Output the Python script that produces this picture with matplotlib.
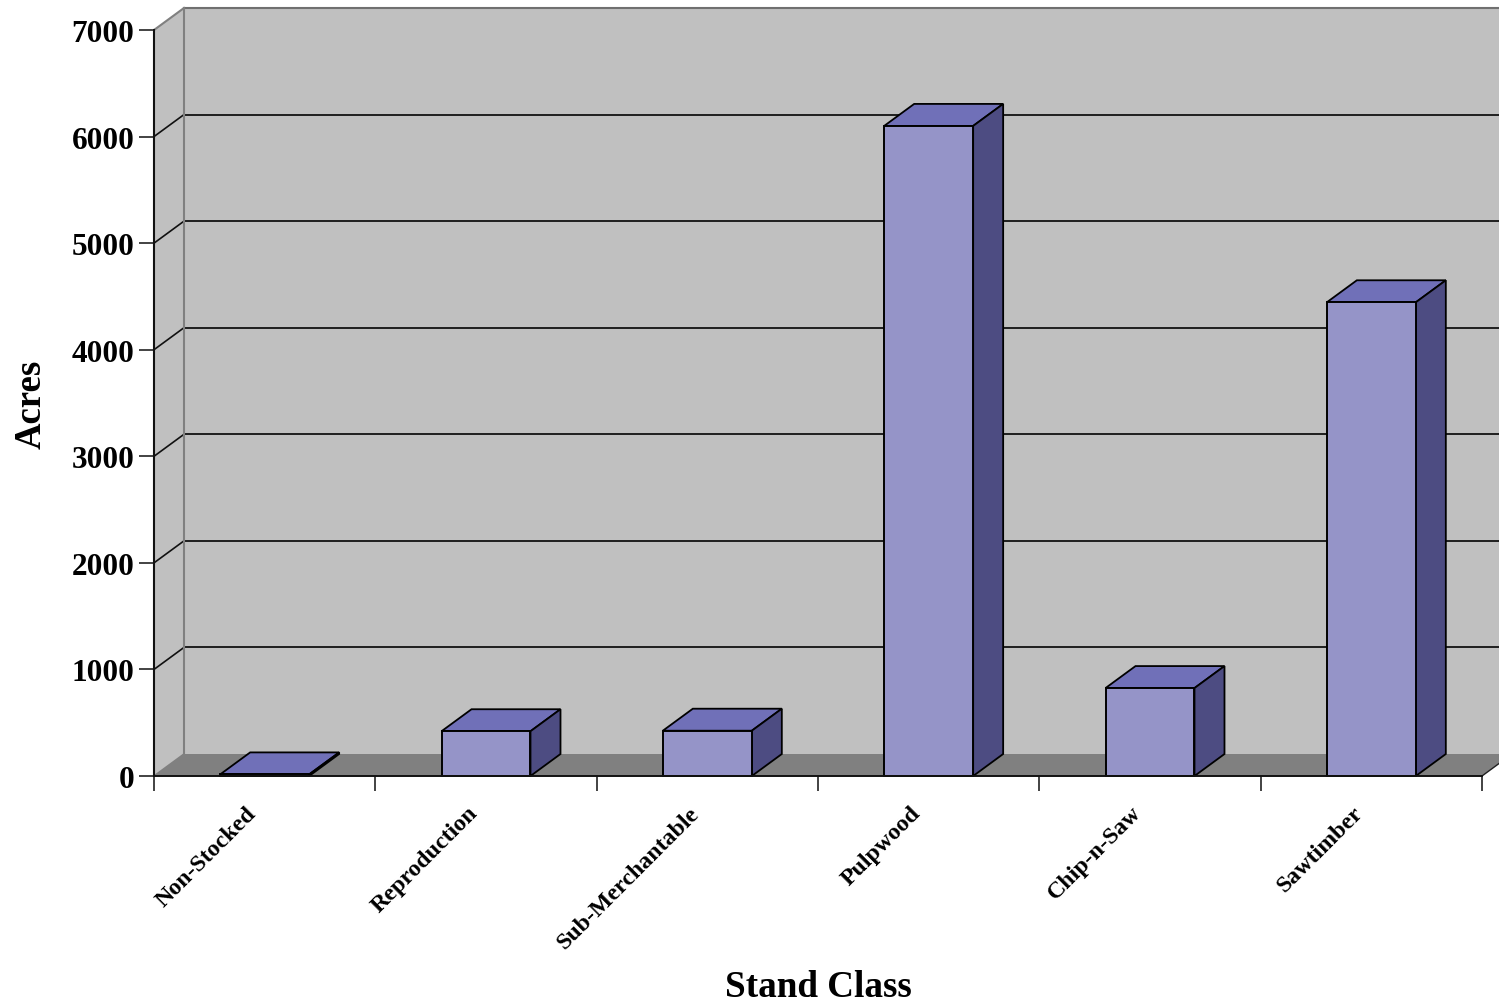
import matplotlib
matplotlib.use("Agg")
import matplotlib.pyplot as plt
from matplotlib.patches import Polygon

categories = ["Non-Stocked", "Reproduction", "Sub-Merchantable", "Pulpwood", "Chip-n-Saw", "Sawtimber"]
acres = [15, 420, 425, 6100, 825, 4445]
yticks = [0, 1000, 2000, 3000, 4000, 5000, 6000, 7000]

plt.rcParams["font.family"] = ["Liberation Serif", "DejaVu Serif"]
W, H = 1499, 1003
fig = plt.figure(figsize=(W / 100, H / 100), dpi=100)
ax = fig.add_axes([154 / W, (H - 777) / H, 1328 / W, 746 / H])
ax.set_xlim(0, 6)
ax.set_ylim(0, 7000)
ax.patch.set_alpha(0)
for s in ax.spines.values():
    s.set_visible(False)

# depth of the fake 3D box, in data units
DX = 30 / (1328 / 6)
DY = 22 / (746 / 7000)
YTOP = 7000
BW = 0.402

WALL = "#C0C0C0"
FLOOR = "#808080"
FRONT = "#9594C8"
TOP = "#7070B8"
SIDE = "#4D4C82"

def poly(pts, fc, ec="none", lw=1.0, z=1):
    ax.add_patch(Polygon(pts, closed=True, fc=fc, ec=ec, lw=lw, zorder=z, clip_on=False))

# walls and floor
poly([(DX, DY), (6.3, DY), (6.3, YTOP + DY), (DX, YTOP + DY)], WALL, z=1)
poly([(0, 0), (DX, DY), (DX, YTOP + DY), (0, YTOP)], WALL, z=1)
poly([(0, 0), (6, 0), (6 + DX, DY), (DX, DY)], FLOOR, z=1)

# grid
for v in yticks:
    if v == 0:
        continue
    if v < YTOP:
        ax.plot([0, DX], [v, v + DY], color="#111111", lw=1.2, zorder=2, clip_on=False)
        ax.plot([DX, 6.3], [v + DY, v + DY], color="#111111", lw=1.3, zorder=2, clip_on=False)
ax.plot([DX, 6.3], [YTOP + DY] * 2, color="#707070", lw=1.5, zorder=2, clip_on=False)
ax.plot([0, DX], [YTOP, YTOP + DY], color="#808080", lw=1.5, zorder=2, clip_on=False)
ax.plot([0, DX], [0, DY], color="#808080", lw=1.2, zorder=2, clip_on=False)
ax.plot([6, 6 + DX], [0, DY], color="#202020", lw=1.0, zorder=2, clip_on=False)
ax.plot([DX, DX], [DY, YTOP + DY], color="#808080", lw=1.5, zorder=2, clip_on=False)
ax.plot([0, 0], [0, YTOP], color="#111111", lw=1.5, zorder=3, clip_on=False)
ax.plot([0, 6], [0, 0], color="#111111", lw=1.4, zorder=6, clip_on=False)

# bars
xs = [i + 0.5 for i in range(len(categories))]
ax.bar(xs, acres, width=BW, color=FRONT, edgecolor="black", linewidth=1.4, zorder=5, clip_on=False)
for x, v in zip(xs, acres):
    l, r = x - BW / 2, x + BW / 2
    poly([(l, v), (r, v), (r + DX, v + DY), (l + DX, v + DY)], TOP, "black", 1.3, 4)
    poly([(r, 0), (r + DX, DY), (r + DX, v + DY), (r, v)], SIDE, "black", 1.3, 4)

# ticks and labels
ax.set_yticks(yticks)
ax.set_yticklabels([str(v) for v in yticks], fontsize=22.5, fontweight="bold")
ax.tick_params(axis="y", length=10.8, width=1.2, color="#222222", pad=3.2)
ax.set_xticks(range(7))
ax.set_xticklabels([])
ax.tick_params(axis="x", length=10.5, width=1.2, color="#222222")
for x, c in zip(xs, categories):
    ax.annotate(c, xy=(x, 0), xycoords=("data", "axes fraction"), xytext=(-19, -26),
                textcoords="offset pixels", rotation=45, rotation_mode="anchor",
                ha="right", va="top", fontsize=17.2, fontweight="bold")

fig.text(818 / W, 1 - 988 / H, "Stand Class", ha="center", va="center", fontsize=26.7, fontweight="bold")
fig.text(31 / W, 1 - 404 / H, "Acres", ha="center", va="center", rotation=90, fontsize=26.5, fontweight="bold")
fig.savefig("out.png", dpi=100)
